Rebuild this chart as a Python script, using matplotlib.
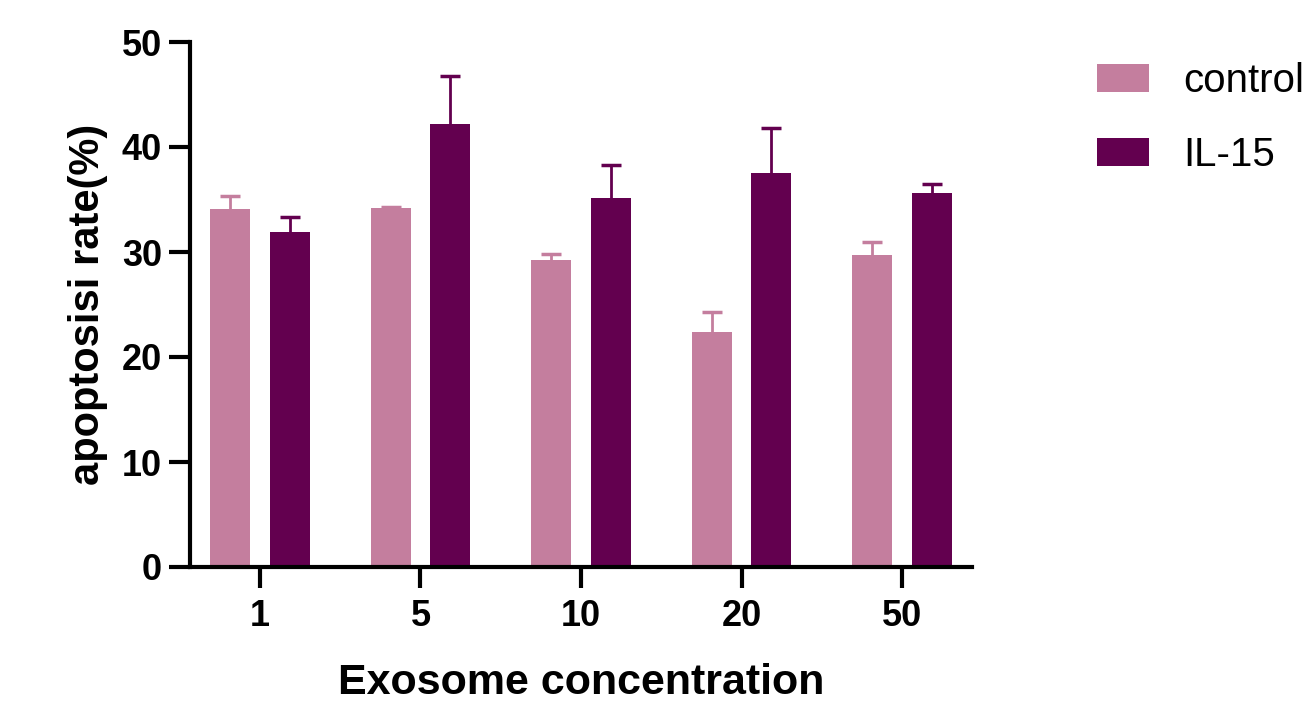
import matplotlib
matplotlib.use("Agg")
import matplotlib.pyplot as plt
import numpy as np
from matplotlib.patches import Patch

categories = ["1", "5", "10", "20", "50"]
control_mean = [34.1, 34.2, 29.2, 22.4, 29.7]
control_err = [1.2, 0.1, 0.6, 1.9, 1.3]
il15_mean = [31.9, 42.2, 35.1, 37.5, 35.6]
il15_err = [1.4, 4.6, 3.2, 4.3, 0.9]
series_labels = ["control", "IL-15"]
yticks = [0, 10, 20, 30, 40, 50]

c_control = "#C47E9E"
c_il15 = "#63004F"

plt.rcParams['font.family'] = ['Liberation Sans', 'DejaVu Sans']

fig = plt.figure(figsize=(13.05, 7.07), dpi=100)
ax = fig.add_axes([190/1305, 1-567/707, (972-190)/1305, (567-42)/707])

x = np.arange(len(categories))
w = 0.25
off = 0.186
ax.bar(x - off, control_mean, width=w, color=c_control, zorder=2)
ax.bar(x + off, il15_mean, width=w, color=c_il15, zorder=2)
for xs, m, e, c in [(x - off, control_mean, control_err, c_control),
                    (x + off, il15_mean, il15_err, c_il15)]:
    _, caps, _ = ax.errorbar(xs, m, yerr=[np.zeros(len(x)), e], fmt='none',
                             ecolor=c, elinewidth=2, capsize=7.5, capthick=2.5, zorder=1)
    caps[0].set_visible(False)

ax.set_xlim(-0.436, 4.436)
ax.set_ylim(0, 50)
ax.set_yticks(yticks)
ax.set_xticks(x)
ax.set_xticklabels(categories)

for s in ['top', 'right']:
    ax.spines[s].set_visible(False)
for s in ['left', 'bottom']:
    ax.spines[s].set_linewidth(3)
    ax.spines[s].set_capstyle('projecting')
ax.tick_params(axis='both', direction='out', length=15, width=3, labelsize=26, pad=5)
ax.tick_params(axis='x', pad=8)
for lab in ax.get_xticklabels() + ax.get_yticklabels():
    lab.set_fontweight('bold')

ax.set_xlabel("Exosome concentration", fontsize=31, fontweight='bold', labelpad=21)
ax.set_ylabel("apoptosisi rate(%)", fontsize=30, fontweight='bold', labelpad=10)

handles = [Patch(facecolor=c_control, edgecolor='none'), Patch(facecolor=c_il15, edgecolor='none')]
fig.legend(handles, series_labels, loc='upper left', bbox_to_anchor=(1097/1305, 1-62/707),
           frameon=False, fontsize=29, handlelength=1.3, handleheight=0.7,
           handletextpad=0.85, labelspacing=0.9, borderaxespad=0, borderpad=0)

fig.savefig("out.png", dpi=100)
